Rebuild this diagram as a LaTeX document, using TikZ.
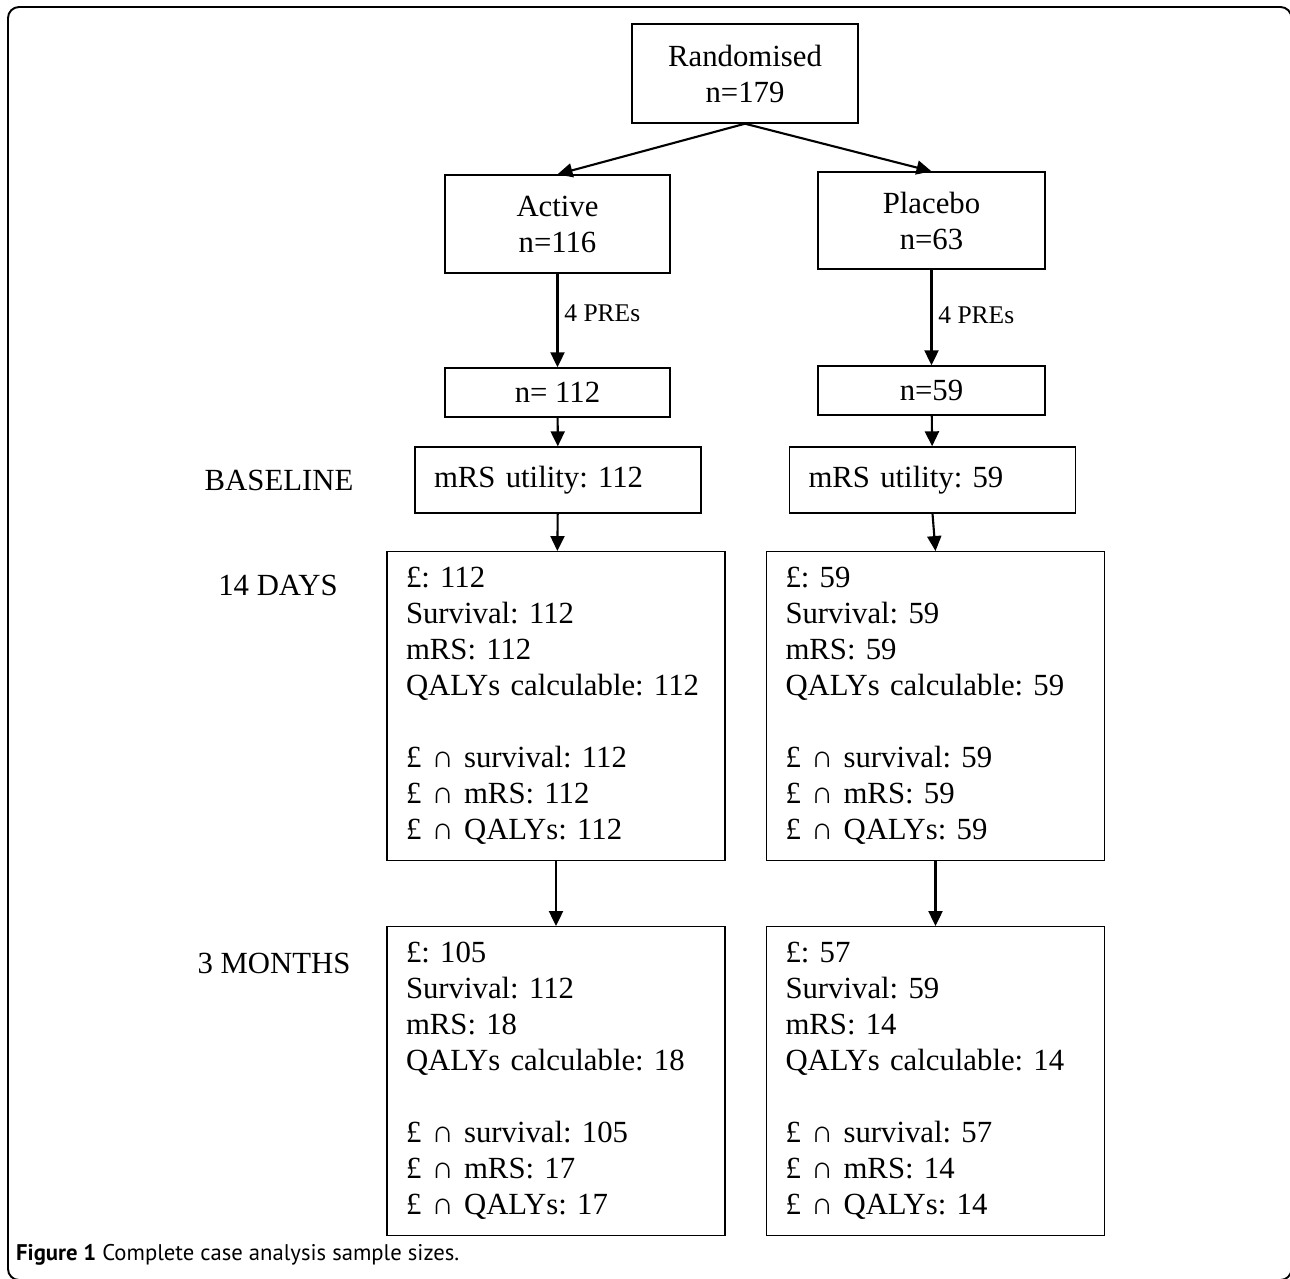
\documentclass[tikz,border=0pt]{standalone}
\usepackage{fontspec}
\setmainfont{Liberation Serif}
\newfontfamily\captionfont{PT Sans}
\usepackage{tikz}
\usetikzlibrary{arrows.meta,positioning}
\frenchspacing

\begin{document}
\begin{tikzpicture}[
    >={Triangle[length=0.3cm,width=0.28cm]},
    flow/.style={->, line width=1.2pt},
    box/.style={draw, line width=0.8pt, align=center, font={\fontsize{17.5}{20.5}\selectfont}},
    utilbox/.style={draw, line width=0.8pt, minimum height=1.32cm, text width=4.96cm, inner xsep=0.38cm, align=left, font={\fontsize{17.5}{20.5}\selectfont}},
    listbox/.style={draw, line width=0.8pt, minimum height=6.17cm, text width=6cm, inner xsep=0.38cm, align=left, font={\fontsize{17.5}{20.5}\selectfont}},
    lbl/.style={font={\fontsize{17.5}{20.5}\selectfont}},
    pre/.style={font={\fontsize{14.5}{16}\selectfont}}
]
    \useasboundingbox (0,0) rectangle (25.8,-25.56);
    % Outer frame
    \draw[line width=1.1pt, rounded corners=0.22cm] (0.16,-0.14) rectangle (25.83,-25.6);

    % Randomisation
    \node[box, minimum width=4.52cm, minimum height=1.98cm] (rand) at (14.9,-1.47) {Randomised\\n=179};

    % Treatment arms
    \node[box, minimum width=4.5cm, minimum height=1.96cm] (act) at (11.15,-4.48) {Active\\n=116};
    \node[box, minimum width=4.54cm, minimum height=1.94cm] (plc) at (18.63,-4.41) {Placebo\\n=63};

    \draw[flow] (rand.south) -- (act.north);
    \draw[flow] (rand.south) -- (plc.north);

    % After PREs
    \node[box, minimum width=4.5cm, minimum height=0.98cm] (act2) at (11.15,-7.85) {n= 112};
    \node[box, minimum width=4.54cm, minimum height=0.98cm] (plc2) at (18.63,-7.81) {n=59};

    \draw[flow] (act) -- (act2) node[pos=0.42, right, pre] {4 PREs};
    \draw[flow] (plc) -- (plc2) node[pos=0.48, right, pre] {4 PREs};

    % Baseline
    \node[utilbox] (actb) at (11.16,-9.6) {mRS utility: 112};
    \node[utilbox] (plcb) at (18.65,-9.6) {mRS utility: 59};

    \draw[flow] (act2) -- (actb);
    \draw[flow] (plc2) -- (plcb);

    % 14 days
    \node[listbox] (act14) at (11.12,-14.12) {£: 112\\Survival: 112\\mRS: 112\\QALYs calculable: 112\\[20.5pt]£ ∩ survival: 112\\£ ∩ mRS: 112\\£ ∩ QALYs: 112};
    \node[listbox] (plc14) at (18.71,-14.12) {£: 59\\Survival: 59\\mRS: 59\\QALYs calculable: 59\\[20.5pt]£ ∩ survival: 59\\£ ∩ mRS: 59\\£ ∩ QALYs: 59};

    \draw[flow] (actb) -- (act14);
    \draw[flow] (plcb.south) -- (plc14.north);

    % 3 months
    \node[listbox] (act3) at (11.12,-21.62) {£: 105\\Survival: 112\\mRS: 18\\QALYs calculable: 18\\[20.5pt]£ ∩ survival: 105\\£ ∩ mRS: 17\\£ ∩ QALYs: 17};
    \node[listbox] (plc3) at (18.71,-21.62) {£: 57\\Survival: 59\\mRS: 14\\QALYs calculable: 14\\[20.5pt]£ ∩ survival: 57\\£ ∩ mRS: 14\\£ ∩ QALYs: 14};

    \draw[flow] (act14) -- (act3);
    \draw[flow] (plc14) -- (plc3);

    % Time points
    \node[lbl] (base) at (5.58,-9.6) {BASELINE};
    \node[lbl] (days) at (5.56,-11.7) {14 DAYS};
    \node[lbl] (mons) at (5.48,-19.26) {3 MONTHS};

    % Caption
    \node[anchor=west, font={\captionfont\fontsize{12.9}{14}\selectfont}] (cap) at (0.2,-25.1) {\textbf{Figure 1} Complete case analysis sample sizes.};
\end{tikzpicture}
\end{document}
